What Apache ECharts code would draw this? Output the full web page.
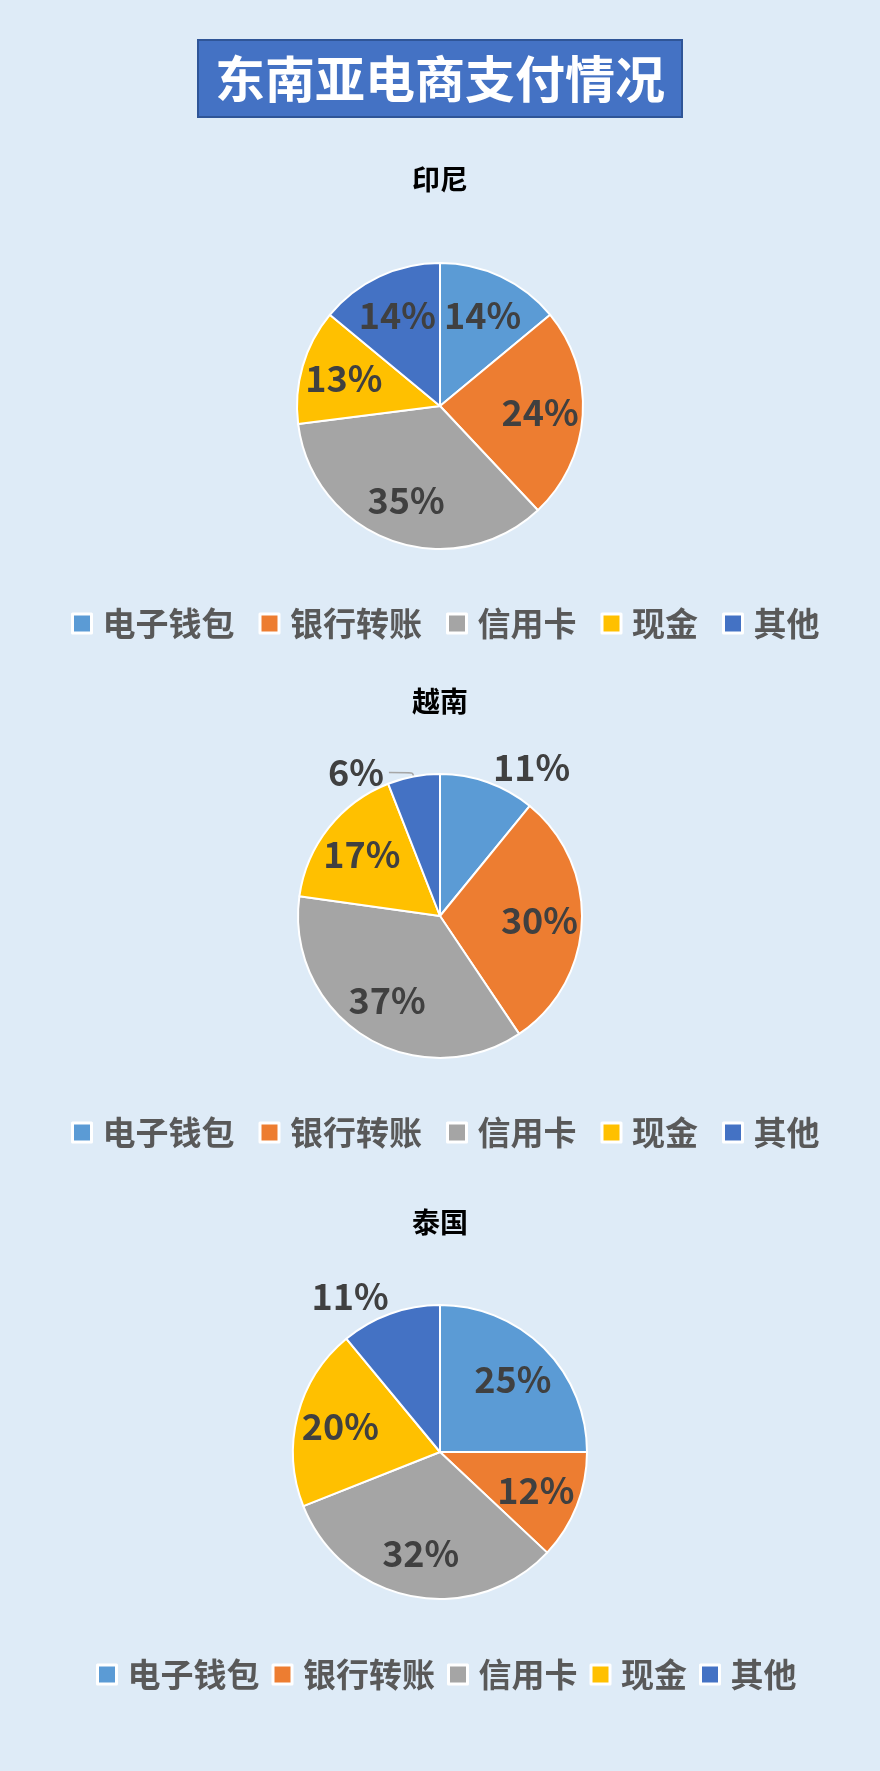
<!DOCTYPE html>
<html>
<head>
<meta charset="utf-8">
<script src="https://cdn.jsdelivr.net/npm/echarts@6/dist/echarts.min.js"></script>
<style>
html, body { margin: 0; padding: 0; background: #DEEBF7; }
#main { width: 880px; height: 1771px; }
</style>
</head>
<body>
<div id="main"></div>
<script>
var categories = ['电子钱包', '银行转账', '信用卡', '现金', '其他'];
var countries = ['印尼', '越南', '泰国'];
var indonesiaValues = [14, 24, 35, 13, 14];
var vietnamValues = [11, 30, 37, 17, 6];
var thailandValues = [25, 12, 32, 20, 11];
var colors = ['#5B9BD5', '#ED7D31', '#A5A5A5', '#FFC000', '#4472C4'];

var font = '"Noto Sans CJK SC", "Noto Sans", sans-serif';

// one block per country: pie centre/radius, subtitle and legend rows,
// and which slices get their label outside the pie
var blocks = [
    { values: indonesiaValues, titleTop: 165, cy: 406, r: 143,
      legendTop: 607, legendLeft: 71, legendGap: 24, outside: {} },
    { values: vietnamValues, titleTop: 687, cy: 916, r: 142,
      legendTop: 1116, legendLeft: 71, legendGap: 24,
      outside: {
          0: { length: 16, length2: 0, line: false, dist: 0 },
          4: { length: 4, length2: 24, line: true, dist: 5 }
      } },
    { values: thailandValues, titleTop: 1208, cy: 1452, r: 147,
      legendTop: 1658, legendLeft: 96, legendGap: 12,
      outside: {
          4: { length: 19, length2: 0, line: false, dist: -5 }
      } }
];

var labelStyle = {
    fontSize: 36,
    fontWeight: 'bold',
    color: '#404040',
    fontFamily: font
};

var titles = [{
    text: '东南亚电商支付情况',
    left: 'center',
    top: 40,
    padding: [13, 17],
    backgroundColor: '#4472C4',
    borderColor: '#2F5597',
    borderWidth: 2,
    textStyle: {
        color: '#fff',
        fontSize: 50,
        lineHeight: 51,
        fontWeight: 'bold',
        fontFamily: font
    }
}];
var legends = [];
var series = [];

blocks.forEach(function (b, k) {
    titles.push({
        text: countries[k],
        left: 'center',
        top: b.titleTop,
        padding: 0,
        textStyle: { color: '#000', fontSize: 28, fontWeight: 'bold', fontFamily: font }
    });

    legends.push({
        data: categories,
        left: b.legendLeft,
        top: b.legendTop,
        padding: 0,
        itemGap: b.legendGap,
        itemWidth: 19,
        itemHeight: 19,
        icon: 'rect',
        itemStyle: { borderColor: '#fff', borderWidth: 3 },
        textStyle: {
            fontSize: 33,
            fontWeight: 'bold',
            color: '#595959',
            fontFamily: font,
            padding: [0, 0, 0, 6]
        }
    });

    // visible slices, only the outside labels
    series.push({
        type: 'pie',
        center: [440, b.cy],
        radius: b.r,
        startAngle: 90,
        clockwise: true,
        avoidLabelOverlap: false,
        emphasis: { disabled: true },
        itemStyle: { borderColor: '#fff', borderWidth: 2 },
        label: { show: false },
        labelLine: { show: false },
        data: categories.map(function (name, i) {
            var o = b.outside[i];
            var item = { name: name, value: b.values[i], itemStyle: { color: colors[i] } };
            if (o) {
                item.label = Object.assign({
                    show: true,
                    position: 'outside',
                    formatter: '{c}%',
                    distanceToLabelLine: o.dist
                }, labelStyle);
                item.labelLine = {
                    show: o.line,
                    length: o.length,
                    length2: o.length2,
                    smooth: 0.4,
                    lineStyle: { color: '#A6A6A6', width: 1.5 }
                };
            }
            return item;
        })
    });

    // transparent ring so that inside labels sit further out, as in Excel
    series.push({
        type: 'pie',
        center: [440, b.cy],
        radius: [b.r * 0.36, b.r],
        startAngle: 90,
        clockwise: true,
        silent: true,
        emphasis: { disabled: true },
        itemStyle: { color: 'transparent', borderWidth: 0 },
        label: Object.assign({ position: 'inside', formatter: '{c}%' }, labelStyle),
        labelLine: { show: false },
        data: categories.map(function (name, i) {
            return {
                name: name,
                value: b.values[i],
                label: { show: !b.outside[i] }
            };
        })
    });
});

var chart = echarts.init(document.getElementById('main'));
chart.setOption({
    backgroundColor: '#DEEBF7',
    textStyle: { fontFamily: font },
    animation: false,
    title: titles,
    legend: legends,
    series: series
});
</script>
</body>
</html>
